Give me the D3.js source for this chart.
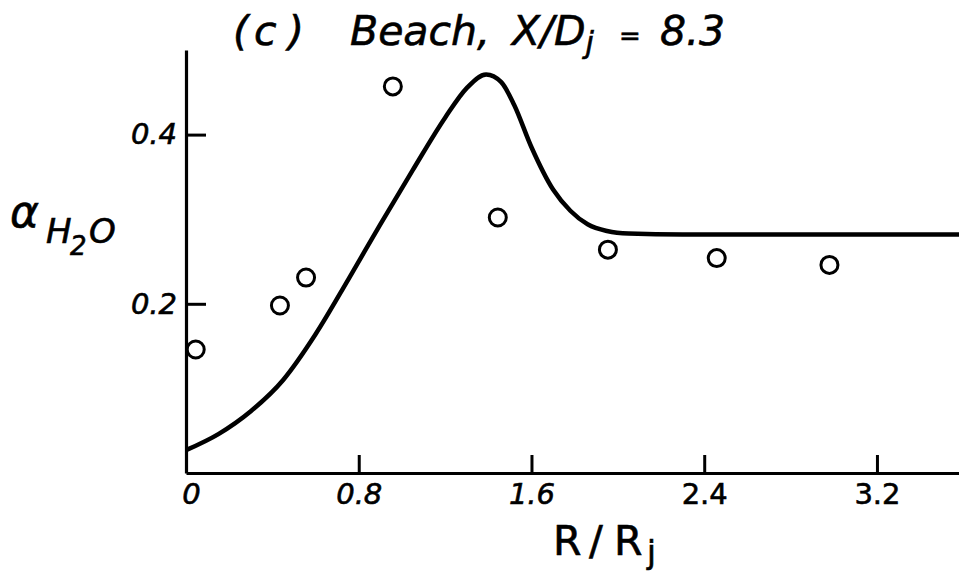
<!DOCTYPE html>
<html>
<head>
<meta charset="utf-8">
<script src="https://cdn.jsdelivr.net/npm/d3@7"></script>
<style>
  html, body { margin: 0; padding: 0; background: #fff; }
  svg { display: block; }
  text { font-family: "DejaVu Sans", sans-serif; fill: #000; stroke: #000; stroke-width: 0.6px; }
</style>
</head>
<body>
<svg id="chart" width="959" height="572"></svg>
<script>
// Computed profile of water mole fraction across the jet
const curveR = [0, 0.15, 0.3, 0.45, 0.6, 0.75, 0.9, 1.05, 1.2, 1.3, 1.39, 1.46, 1.52, 1.6, 1.7, 1.78, 1.86, 1.95, 2.05, 2.3, 3.6];
const curveA = [0.027, 0.046, 0.073, 0.11, 0.164, 0.228, 0.294, 0.358, 0.42, 0.455, 0.471, 0.462, 0.435, 0.385, 0.335, 0.31, 0.294, 0.286, 0.283, 0.282, 0.282];

// Measured points (open circles)
const measR = [0.045, 0.435, 0.556, 0.958, 1.444, 1.954, 2.458, 2.98];
const measA = [0.146, 0.198, 0.231, 0.457, 0.302, 0.264, 0.254, 0.246];

// Axis ticks
const xTicks = [0, 0.8, 1.6, 2.4, 3.2];
const xTickItalic = [true, true, true, false, false];
const yTicks = [0.2, 0.4];

const svg = d3.select("#chart");

const x = d3.scaleLinear().domain([0, 3.58]).range([186, 959]);
const y = d3.scaleLinear().domain([0, 0.5]).range([473, 50]);

const fmt = d => d === 0 ? "0" : d.toFixed(1);

// x axis: ticks point up into the plot, labels below
const gx = svg.append("g")
  .attr("transform", `translate(0,${y(0)})`)
  .call(d3.axisBottom(x).tickValues(xTicks).tickFormat(fmt)
        .tickSize(-18).tickSizeOuter(0).tickPadding(10));
gx.select(".domain").attr("stroke", "#000").attr("stroke-width", 3.2);
gx.selectAll(".tick line").attr("stroke", "#000").attr("stroke-width", 3);
gx.selectAll(".tick text")
  .attr("font-size", 29)
  .attr("font-family", "DejaVu Sans, sans-serif")
  .attr("font-style", (d, i) => xTickItalic[i] ? "italic" : "normal")
  .attr("dx", (d, i) => i === 0 ? 5 : 0);

// y axis: ticks point right into the plot, labels left
const gy = svg.append("g")
  .attr("transform", `translate(${x(0)},0)`)
  .call(d3.axisLeft(y).tickValues(yTicks).tickFormat(fmt)
        .tickSize(-20).tickSizeOuter(0).tickPadding(9));
gy.select(".domain").attr("stroke", "#000").attr("stroke-width", 3.2);
gy.selectAll(".tick line").attr("stroke", "#000").attr("stroke-width", 3);
gy.selectAll(".tick text")
  .attr("font-size", 29)
  .attr("font-family", "DejaVu Sans, sans-serif")
  .attr("font-style", "italic");

// Computed curve
const line = d3.line()
  .x((d, i) => x(curveR[i]))
  .y((d, i) => y(curveA[i]))
  .curve(d3.curveMonotoneX);
svg.append("path")
  .datum(curveR)
  .attr("d", line)
  .attr("fill", "none")
  .attr("stroke", "#000")
  .attr("stroke-width", 4.5)
  .attr("stroke-linejoin", "round");

// Measured points
svg.append("g").selectAll("circle")
  .data(measR)
  .join("circle")
  .attr("cx", (d, i) => x(measR[i]))
  .attr("cy", (d, i) => y(measA[i]))
  .attr("r", 8.5)
  .attr("fill", "none")
  .attr("stroke", "#000")
  .attr("stroke-width", 3);

// Panel title
const title = svg.append("text")
  .attr("y", 45)
  .attr("font-size", 41)
  .attr("font-style", "italic");
title.append("tspan").attr("x", 233).text("(");
title.append("tspan").attr("x", 254).text("c");
title.append("tspan").attr("x", 288).text(")");
title.append("tspan").attr("x", 350).text("Beach,");
title.append("tspan").attr("x", 512).text("X/D");
title.append("tspan").attr("font-size", 30).attr("dy", 8).text("j");
title.append("tspan").attr("x", 619).attr("dy", -8).attr("font-size", 26).text("=");
title.append("tspan").attr("x", 660).text("8.3");

// y axis label: alpha with subscript H2O
const ylab = svg.append("text").attr("font-style", "italic");
ylab.append("tspan").attr("x", 10).attr("y", 227).attr("font-size", 44).text("α");
ylab.append("tspan").attr("x", 46).attr("y", 243).attr("font-size", 34).text("H");
ylab.append("tspan").attr("x", 70).attr("y", 255).attr("font-size", 26).text("2");
ylab.append("tspan").attr("x", 89).attr("y", 243).attr("font-size", 34).text("O");

// x axis label: R/Rj
const xlab = svg.append("text").attr("y", 555).attr("font-size", 41);
xlab.append("tspan").attr("x", 553).text("R");
xlab.append("tspan").attr("x", 589).text("/");
xlab.append("tspan").attr("x", 614).text("R");
xlab.append("tspan").attr("x", 647).attr("y", 563).attr("font-size", 32).text("j");
</script>
</body>
</html>
